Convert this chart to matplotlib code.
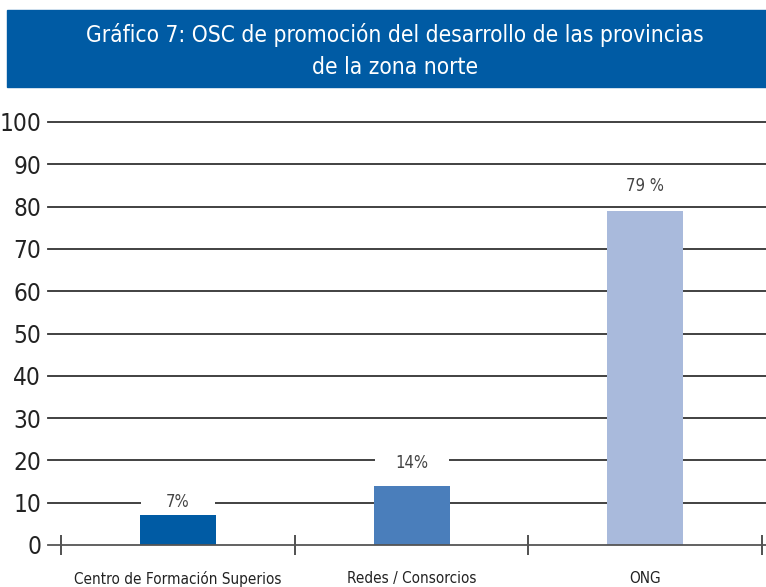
import matplotlib
matplotlib.use("Agg")
import matplotlib.pyplot as plt
from matplotlib.patches import Rectangle
from matplotlib.path import Path

categories = ["Centro de Formación Superios", "Redes / Consorcios", "ONG"]
values = [7, 14, 79]
value_labels = ["7%", "14%", "79 %"]
yticks = [0, 10, 20, 30, 40, 50, 60, 70, 80, 90, 100]
title_lines = ["Gráfico 7: OSC de promoción del desarrollo de las provincias", "de la zona norte"]

bar_colors = ["#005BA4", "#4A7EBB", "#A9BADC"]
label_offsets = [9.5, 16.5, 18]  # points from bar top to label centre

plt.rcParams["font.family"] = ["DejaVu Sans"]
plt.rcParams["font.stretch"] = "condensed"

W, H = 766, 587
fig = plt.figure(figsize=(W / 100, H / 100), dpi=100)

# title banner
fig.patches.append(Rectangle((7 / W, 1 - 87 / H), 1 - 7 / W, 77 / H,
                             transform=fig.transFigure, color="#005BA4", zorder=0))
fig.text(395 / W, 1 - 35 / H, title_lines[0], ha="center", va="center",
         color="white", fontsize=16.3)
fig.text(395 / W, 1 - 67 / H, title_lines[1], ha="center", va="center",
         color="white", fontsize=16.3)

ax = fig.add_axes([48 / W, (H - 545) / H, (W - 48) / W, (545 - 122) / H])
x = list(range(len(categories)))
ax.bar(x, values, width=0.325, color=bar_colors, zorder=3)

ax.set_ylim(0, 100)
ax.set_xlim(-0.556, 2.517)
ax.set_yticks(yticks)
ax.set_yticklabels([str(v) for v in yticks], fontsize=17.5, color="#222222")
ax.tick_params(axis="y", length=0, pad=5)
for v in yticks[1:]:
    ax.axhline(v, color="#333333", lw=1.3, zorder=1, clip_on=False)

ax.set_xticks(x)
ax.set_xticklabels(categories, fontsize=11, color="#222222")
ax.tick_params(axis="x", which="major", length=0, pad=19)
ax.set_xticks([-0.5, 0.5, 1.5, 2.5], minor=True)
ax.tick_params(axis="x", which="minor", direction="inout", length=15,
               width=1.2, color="#333333")

for s in ["top", "right", "left"]:
    ax.spines[s].set_visible(False)
ax.spines["bottom"].set_color("#555555")
ax.spines["bottom"].set_linewidth(1.3)
ax.spines["bottom"].set_zorder(4)


def wide_box(x0, y0, width, height, mutation_size):
    w = max(width, 74.0)
    cx = x0 + width / 2
    py = 0.25 * mutation_size
    l, r = cx - w / 2, cx + w / 2
    b, t = y0 - py, y0 + height + py
    return Path([(l, b), (r, b), (r, t), (l, t), (l, b)], closed=True)


for xi, v, lab, off in zip(x, values, value_labels, label_offsets):
    ax.annotate(lab, (xi, v), xytext=(0, off), textcoords="offset points",
                ha="center", va="center", fontsize=12, color="#444444", zorder=5,
                bbox=dict(boxstyle=wide_box, fc="white", ec="none"))

ax.set_facecolor("none")
fig.savefig("out.png", dpi=100)
